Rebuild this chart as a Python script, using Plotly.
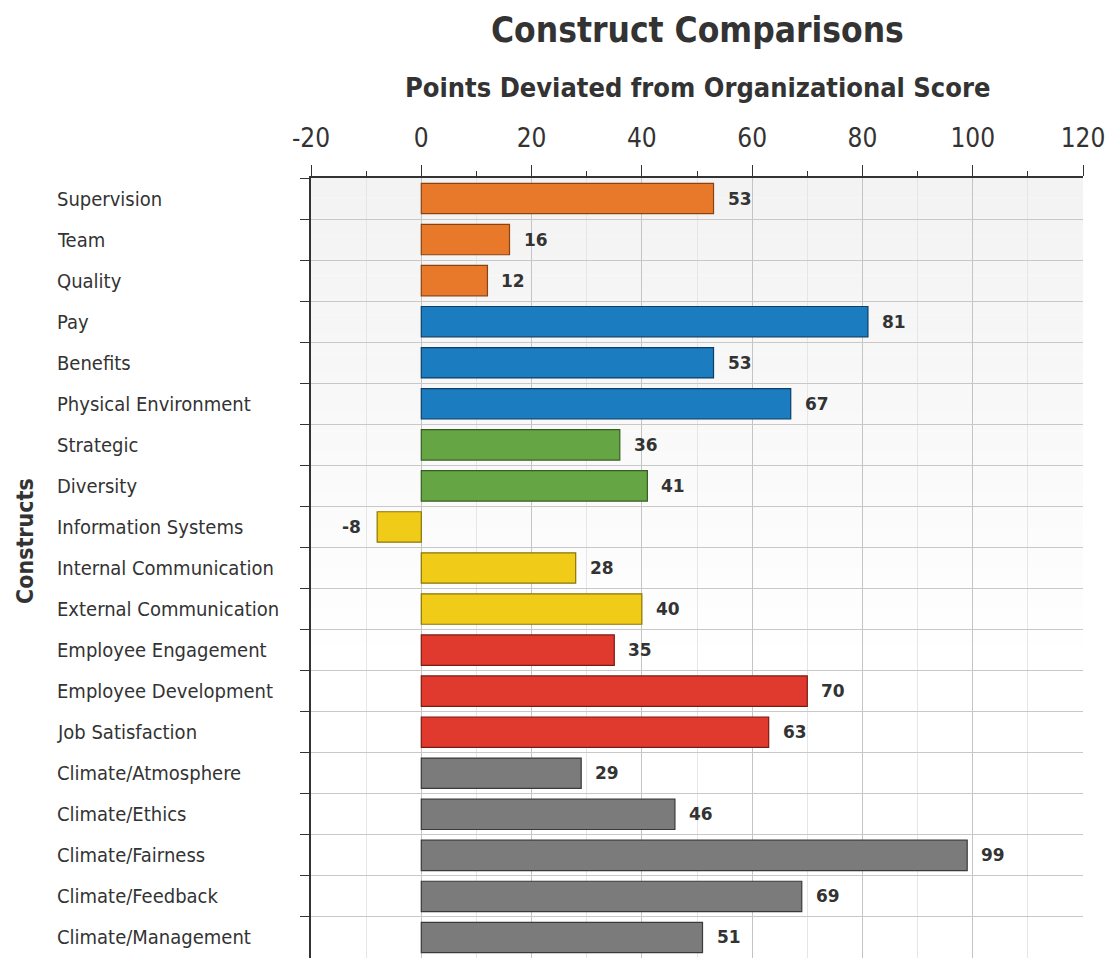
import plotly.graph_objects as go

categories = ["Supervision", "Team", "Quality", "Pay", "Benefits", "Physical Environment",
              "Strategic", "Diversity", "Information Systems", "Internal Communication",
              "External Communication", "Employee Engagement", "Employee Development",
              "Job Satisfaction", "Climate/Atmosphere", "Climate/Ethics", "Climate/Fairness",
              "Climate/Feedback", "Climate/Management"]
values = [53, 16, 12, 81, 53, 67, 36, 41, -8, 28, 40, 35, 70, 63, 29, 46, 99, 69, 51]
groups = ["orange"] * 3 + ["blue"] * 3 + ["green"] * 2 + ["yellow"] * 3 + ["red"] * 3 + ["gray"] * 5
tick_values = [-20, 0, 20, 40, 60, 80, 100, 120]
tick_labels = ["-20", "0", "20", "40", "60", "80", "100", "120"]

fill = {"orange": "#e8792a", "blue": "#1b7cc0", "green": "#66a544", "yellow": "#f0cc18",
        "red": "#e03a2e", "gray": "#7b7b7b"}
edge = {"orange": "#8a4310", "blue": "#0d3f66", "green": "#365e20", "yellow": "#8a7406",
        "red": "#7c1a12", "gray": "#3a3a3a"}

fig = go.Figure(go.Bar(
    y=categories, x=values, orientation="h",
    marker=dict(color=[fill[g] for g in groups],
                line=dict(color=[edge[g] for g in groups], width=1.2)),
    width=0.74, hoverinfo="skip",
))

# subtle background gradient (top light gray to white)
shapes = []
n = 24
for i in range(n):
    t = i / n
    c = int(243 + (255 - 243) * t)
    shapes.append(dict(type="rect", xref="paper", yref="paper", layer="below",
                       x0=0, x1=1, y0=1 - 0.6 * (i + 1) / n, y1=1 - 0.6 * i / n,
                       line=dict(width=0), fillcolor=f"rgb({c},{c},{c})"))

annotations = [dict(xref="paper", yref="y", x=-0.3316, y=c, text=c, showarrow=False,
                    xanchor="left", font=dict(family="DejaVu Sans Condensed", size=20, color="#333333"))
               for c in categories]
# value labels
for c, v in zip(categories, values):
    annotations.append(dict(xref="x", yref="y", x=v, y=c, text=f"<b>{v}</b>", showarrow=False,
                            xanchor="left" if v >= 0 else "right", xshift=12 if v >= 0 else -14,
                            font=dict(family="DejaVu Sans", size=17, color="#333333")))
annotations.append(dict(xref="paper", yref="paper", x=-0.3705, y=0.5346, text="<b>Constructs</b>",
                        textangle=-90, showarrow=False, xanchor="center", yanchor="middle",
                        font=dict(family="DejaVu Sans Condensed", size=23, color="#333333")))
annotations.append(dict(xref="paper", yref="paper", x=0.5, y=1.0, yshift=148, text="<b>Construct Comparisons</b>",
                        showarrow=False, xanchor="center", yanchor="middle",
                        font=dict(family="DejaVu Sans Condensed", size=35, color="#333333")))
annotations.append(dict(xref="paper", yref="paper", x=0.5, y=1.0, yshift=91,
                        text="<b>Points Deviated from Organizational Score</b>",
                        showarrow=False, xanchor="center", yanchor="middle",
                        font=dict(family="DejaVu Sans Condensed", size=27, color="#333333")))

fig.update_layout(
    width=1110, height=958,
    margin=dict(l=311, r=27, t=178, b=0),
    paper_bgcolor="white", plot_bgcolor="white",
    showlegend=False, bargap=0.26,
    shapes=shapes, annotations=annotations,
    xaxis=dict(side="top", range=[-20, 120], tickmode="array", tickvals=tick_values, ticktext=tick_labels,
               ticks="outside", ticklen=11, tickcolor="#333333",
               tickfont=dict(family="DejaVu Sans Condensed", size=26, color="#333333"),
               showgrid=True, gridcolor="#c4c4c4", gridwidth=1,
               minor=dict(dtick=10, tick0=0, showgrid=True, gridcolor="#e6e6e6", ticks="outside",
                          ticklen=5, tickcolor="#333333"),
               showline=True, linecolor="#333333", linewidth=1.5, zeroline=False,
               ticklabelstandoff=8),
    yaxis=dict(autorange="reversed", type="category", tickson="boundaries",
               ticks="outside", ticklen=9, tickcolor="#333333",
               showticklabels=False, showgrid=True, gridcolor="#c8c8c8",
               showline=True, linecolor="#333333", linewidth=1.5),
)

fig.write_html("out.html", config={"displayModeBar": False},
               post_script="document.body.style.margin='0px';document.body.style.overflow='hidden';")
